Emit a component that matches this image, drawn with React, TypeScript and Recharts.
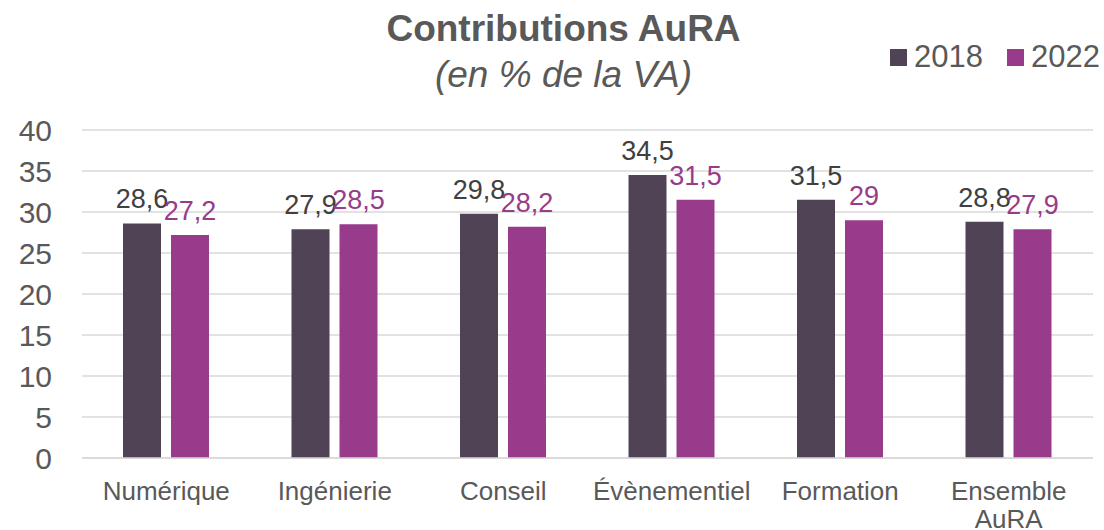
import React from "react";
import {
  BarChart,
  Bar,
  XAxis,
  YAxis,
  CartesianGrid,
  LabelList,
} from "recharts";

const categories = [
  "Numérique",
  "Ingénierie",
  "Conseil",
  "Évènementiel",
  "Formation",
  "Ensemble AuRA",
];
const values2018 = [28.6, 27.9, 29.8, 34.5, 31.5, 28.8];
const values2022 = [27.2, 28.5, 28.2, 31.5, 29, 27.9];
const yTicks = [0, 5, 10, 15, 20, 25, 30, 35, 40];

const COLOR_2018 = "#514356";
const COLOR_2022 = "#983B8B";
const TEXT = "#595959";
const FONT = "'Liberation Sans', Arial, sans-serif";

const data = categories.map((c, i) => ({
  name: c,
  y2018: values2018[i],
  y2022: values2022[i],
}));

const fmt = (v: number) => String(v).replace(".", ",");

const XTick = (props: any) => {
  const { x, y, payload } = props;
  const label: string = payload.value;
  const lines = label.length > 12 ? label.split(" ") : [label];
  return (
    <text
      x={x}
      y={y}
      textAnchor="middle"
      fill={TEXT}
      fontSize={26}
      fontFamily={FONT}
    >
      {lines.map((l, i) => (
        <tspan key={l} x={x} dy={i === 0 ? 34 : 28}>
          {l}
        </tspan>
      ))}
    </text>
  );
};

const legendItems = [
  ["2018", COLOR_2018],
  ["2022", COLOR_2022],
];

export default function App() {
  return (
    <div
      style={{
        position: "absolute",
        left: 0,
        top: 0,
        width: 1104,
        height: 530,
        background: "#fff",
        overflow: "hidden",
      }}
    >
      <div
        style={{
          position: "absolute",
          left: 0,
          width: 1127,
          top: 6,
          textAlign: "center",
          fontFamily: FONT,
          color: TEXT,
        }}
      >
        <div style={{ fontSize: 37, fontWeight: "bold", lineHeight: "46px" }}>
          Contributions AuRA
        </div>
        <div style={{ fontSize: 37, fontStyle: "italic", lineHeight: "46px" }}>
          (en % de la VA)
        </div>
      </div>
      <div
        style={{
          position: "absolute",
          left: 890,
          top: 39,
          display: "flex",
          gap: 24,
          fontFamily: FONT,
          fontSize: 31,
          lineHeight: "36px",
          color: TEXT,
          alignItems: "center",
        }}
      >
        {legendItems.map(([t, c]) => (
          <div key={t} style={{ display: "flex", alignItems: "center", gap: 7 }}>
            <span
              style={{ width: 17, height: 17, background: c, display: "inline-block" }}
            />
            <span>{t}</span>
          </div>
        ))}
      </div>
      <div style={{ position: "absolute", left: 0, top: 0 }}>
        <BarChart
          width={1104}
          height={530}
          data={data}
          margin={{ top: 130, right: 11, left: 0, bottom: 0 }}
          barSize={38}
          barGap={10}
        >
          <CartesianGrid vertical={false} stroke="#d9d9d9" strokeWidth={1.5} />
          <XAxis
            dataKey="name"
            height={72}
            axisLine={{ stroke: "#d9d9d9", strokeWidth: 1.5 }}
            tickLine={false}
            interval={0}
            tick={<XTick />}
          />
          <YAxis
            width={82}
            domain={[0, 40]}
            ticks={yTicks}
            axisLine={false}
            tickLine={false}
            tickSize={0}
            tickMargin={30}
            tick={{ fill: TEXT, fontSize: 30, fontFamily: FONT }}
          />
          <Bar dataKey="y2018" fill={COLOR_2018} isAnimationActive={false}>
            <LabelList
              dataKey="y2018"
              position="top"
              offset={15}
              formatter={(v: any) => fmt(v)}
              fill="#404040"
              fontSize={27}
              fontFamily={FONT}
            />
          </Bar>
          <Bar dataKey="y2022" fill={COLOR_2022} isAnimationActive={false}>
            <LabelList
              dataKey="y2022"
              position="top"
              offset={15}
              formatter={(v: any) => fmt(v)}
              fill={COLOR_2022}
              fontSize={27}
              fontFamily={FONT}
            />
          </Bar>
        </BarChart>
      </div>
    </div>
  );
}
